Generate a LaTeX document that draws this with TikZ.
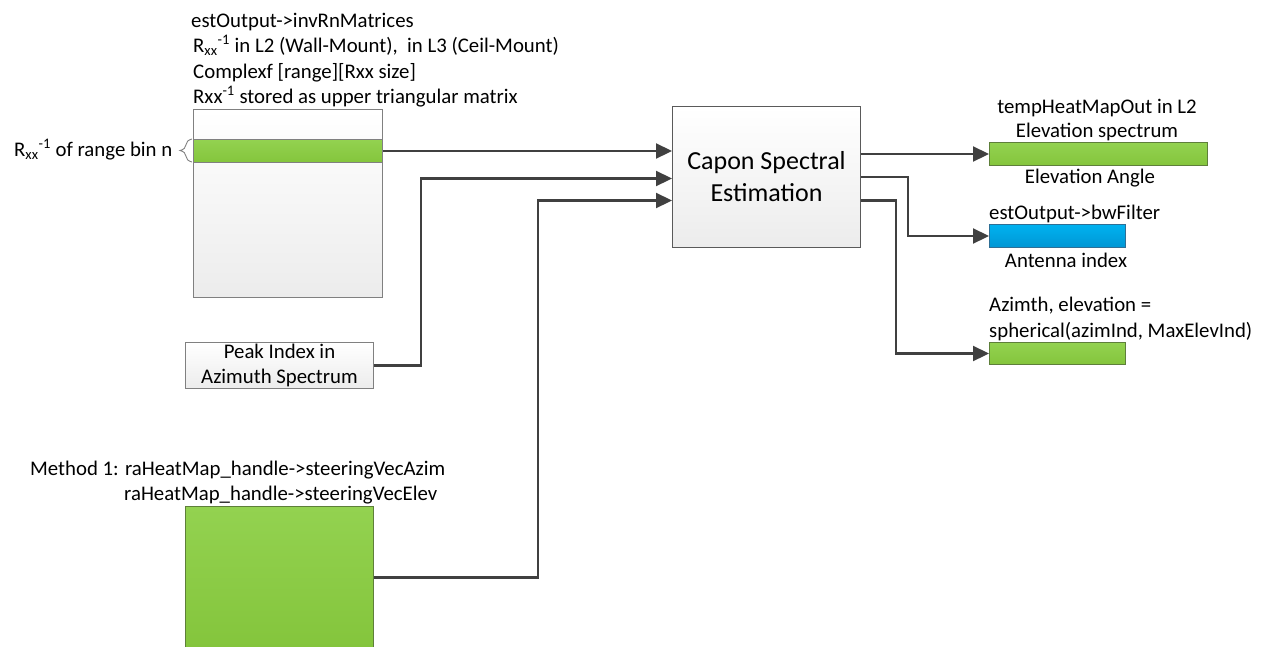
\documentclass[tikz,border=0pt]{standalone}
\usepackage{fontspec}
\setmainfont{Carlito}
\usetikzlibrary{arrows.meta,decorations.pathreplacing,calc}
\definecolor{lineC}{HTML}{404040}
\definecolor{matB}{HTML}{808080}
\definecolor{capB}{HTML}{5A5A5A}
\definecolor{grayBot}{HTML}{ECECEC}
\definecolor{greenT}{HTML}{93D250}
\definecolor{greenB}{HTML}{84C53C}
\definecolor{greenD}{HTML}{5E7F3A}
\definecolor{blueT}{HTML}{00B2F0}
\definecolor{blueB}{HTML}{0096D4}
\definecolor{blueD}{HTML}{2F6F95}
\begin{document}
\begin{tikzpicture}[x=1pt,y=-1pt,
  box/.style={draw=matB, line width=1pt, inner sep=0pt, top color=white, bottom color=grayBot, anchor=north west},
  greenbar/.style={draw=greenD, line width=1pt, inner sep=0pt, top color=greenT, bottom color=greenB, anchor=north west},
  bluebar/.style={draw=blueD, line width=1pt, inner sep=0pt, top color=blueT, bottom color=blueB, anchor=north west},
  arr/.style={draw=lineC, line width=2.2pt, -{Triangle[length=16pt,width=15pt]}},
  lbl/.style={font=\fontsize{20.8}{25.3}\selectfont, inner sep=0pt}]
\useasboundingbox (0,0) rectangle (1264,646);
\clip (0,0) rectangle (1264,646);

% matrix store
\node[box, minimum width=189pt, minimum height=188pt] (mat) at (193,109) {};
\node[greenbar, draw=matB, minimum width=189pt, minimum height=23pt] (strip) at (193,139) {};
\draw[decorate, decoration={brace, amplitude=12pt, aspect=0.5}, draw=matB, line width=0.9pt] (192,162) -- (192,139);
\node[lbl, anchor=base west] (rlbl) at (14,156) {R\textsubscript{xx}\textsuperscript{-1} of range bin n};

\node[lbl, anchor=base west] (t1) at (191,27) {estOutput->invRnMatrices};
\node[lbl, anchor=base west] (t2) at (193,52) {R\textsubscript{xx}\textsuperscript{-1} in L2 (Wall-Mount),\ \ in L3 (Ceil-Mount)};
\node[lbl, anchor=base west] (t3) at (193,78) {Complexf [range][Rxx size]};
\node[lbl, anchor=base west] (t4) at (193,103) {Rxx\textsuperscript{-1} stored as upper triangular matrix};

% peak index
\node[box, minimum width=188pt, minimum height=46pt, align=center, font=\fontsize{20.8}{25}\selectfont] (peak) at (185,342) {Peak Index in\\Azimuth Spectrum};

% steering vectors
\node[lbl, anchor=base west] (m1) at (30,475) {Method 1: raHeatMap\_handle->steeringVecAzim};
\node[lbl, anchor=base west] (m2) at (124,500) {raHeatMap\_handle->steeringVecElev};
\node[greenbar, minimum width=188pt, minimum height=142pt] (steer) at (185,506) {};

% Capon
\node[box, draw=capB, minimum width=188pt, minimum height=141pt, align=center, font=\fontsize{26}{32}\selectfont] (capon) at (672,106) {Capon Spectral\\Estimation};

% outputs
\node[lbl, anchor=base] (e1) at (1097,113) {tempHeatMapOut in L2};
\node[lbl, anchor=base] (e2) at (1097,137) {Elevation spectrum};
\node[greenbar, minimum width=218pt, minimum height=23pt] (elev) at (989,142) {};
\node[lbl, anchor=base] (e3) at (1090,183) {Elevation Angle};

\node[lbl, anchor=base west] (b1) at (989,219) {estOutput->bwFilter};
\node[bluebar, minimum width=136pt, minimum height=23pt] (bw) at (989,224) {};
\node[lbl, anchor=base] (b2) at (1066,267) {Antenna index};

\node[lbl, anchor=base west] (a1) at (989,311) {Azimth, elevation =};
\node[lbl, anchor=base west] (a2) at (989,337) {spherical(azimInd, MaxElevInd)};
\node[greenbar, minimum width=136pt, minimum height=22pt] (az) at (989,342) {};

% connectors
\draw[arr] (strip.east) -- (strip.east -| capon.west);
\draw[arr] (peak.east) -- ++(47,0) |- ([yshift=-1.5pt]capon.west);
\draw[arr] (steer.east) -- ++(164,0) |- ([yshift=-23.5pt]capon.west);

\draw[arr] (elev.west -| capon.east) -- (elev.west);
\draw[arr] (capon.east) -- ++(47,0) |- (bw.west);
\draw[arr] ([yshift=-23.5pt]capon.east) -- ++(35,0) |- (az.west);
\end{tikzpicture}
\end{document}
